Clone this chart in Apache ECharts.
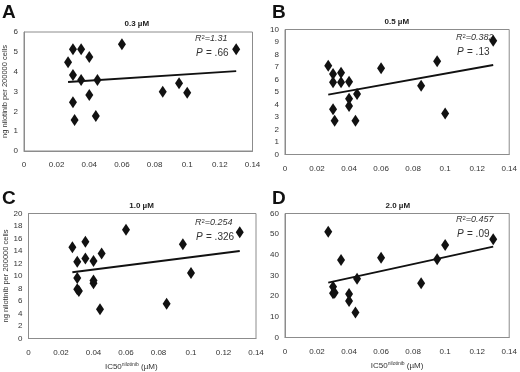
<!DOCTYPE html>
<html>
<head>
<meta charset="utf-8">
<script src="https://cdn.jsdelivr.net/npm/echarts@6/dist/echarts.min.js"></script>
<style>
  html, body { margin: 0; padding: 0; background: #fff; }
  #chart { width: 520px; height: 372px; }
</style>
</head>
<body>
<div id="chart"></div>
<script>
// IC50 (uM) vs ng nilotinib per 200000 cells
const aX = [0.027, 0.03, 0.035, 0.04, 0.06, 0.03, 0.035, 0.045, 0.03, 0.04, 0.031, 0.044, 0.085, 0.095, 0.1, 0.13];
const aY = [4.47, 5.13, 5.13, 4.74, 5.38, 3.83, 3.58, 3.58, 2.46, 2.82, 1.56, 1.76, 2.99, 3.41, 2.94, 5.13];
const bX = [0.027, 0.03, 0.03, 0.035, 0.035, 0.04, 0.04, 0.04, 0.045, 0.03, 0.031, 0.044, 0.06, 0.095, 0.085, 0.1, 0.13];
const bY = [7.1, 6.44, 5.78, 6.55, 5.78, 5.83, 4.47, 3.88, 4.84, 3.62, 2.71, 2.71, 6.9, 7.46, 5.51, 3.29, 9.11];
const cX = [0.027, 0.035, 0.03, 0.035, 0.04, 0.045, 0.03, 0.04, 0.04, 0.03, 0.031, 0.044, 0.06, 0.095, 0.1, 0.085, 0.13];
const cY = [14.6, 15.5, 12.3, 12.8, 12.4, 13.6, 9.7, 9.3, 8.85, 7.9, 7.6, 4.7, 17.4, 15.1, 10.5, 5.55, 17.0];
const dX = [0.027, 0.035, 0.06, 0.03, 0.03, 0.031, 0.04, 0.04, 0.045, 0.044, 0.095, 0.1, 0.085, 0.13];
const dY = [51.2, 37.5, 38.6, 24.6, 21.4, 21.6, 21.1, 17.7, 28.4, 12.1, 37.9, 44.8, 26.3, 47.5];

// trend lines (end points)
const trendX = [0.027, 0.13];
const aTrend = [3.48, 4.03];
const bTrend = [4.79, 7.16];
const cTrend = [10.6, 14.0];
const dTrend = [26.6, 44.0];

const panelLetters = ['A', 'B', 'C', 'D'];
const panelTitles = ['0.3 \u00b5M', '0.5 \u00b5M', '1.0 \u00b5M', '2.0 \u00b5M'];
const rSquared = ['1.31', '0.382', '0.254', '0.457'];
const pValues = ['.66', '.13', '.326', '.09'];
const yMax = [6, 10, 20, 60];
const yStep = [1, 1, 2, 10];

const xTicks = { min: 0, max: 0.14, interval: 0.02 };

const zip = (xs, ys) => xs.map((x, i) => [x, ys[i]]);

const narrow = "'Liberation Sans Narrow', 'Arial Narrow', 'Liberation Sans', sans-serif";
const sans = "'Liberation Sans', Arial, sans-serif";
const gray = '#8c8c8c';

const grids = [
  { left: 22.5, top: 32, width: 230, height: 119 },
  { left: 285, top: 29.5, width: 225, height: 125 },
  { left: 28.5, top: 213.5, width: 227.5, height: 127 },
  { left: 285, top: 213.5, width: 227, height: 124 }
];

const pointSets = [zip(aX, aY), zip(bX, bY), zip(cX, cY), zip(dX, dY)];
const trends = [aTrend, bTrend, cTrend, dTrend];

// annotation positions (R2 line, P line)
const notePos = [
  { left: 195, r: 34, p: 47 },
  { left: 456, r: 33, p: 46 },
  { left: 195, r: 218, p: 231 },
  { left: 456, r: 215, p: 228 }
];

let myChart = echarts.init(document.getElementById('chart'));

let option = {
  animation: false,
  backgroundColor: '#fff',
  grid: grids.map(g => Object.assign({ show: true, borderColor: gray, borderWidth: 1, backgroundColor: '#fff' }, g)),
  title: [],
  xAxis: grids.map((g, i) => ({
    gridIndex: i,
    type: 'value',
    min: xTicks.min,
    max: xTicks.max,
    interval: xTicks.interval,
    axisLine: { show: true, lineStyle: { color: gray } },
    axisTick: { show: false },
    splitLine: { show: false },
    axisLabel: { fontFamily: narrow, fontSize: 8, color: '#333', margin: 10 },
    name: i >= 2 ? 'IC50{s|nilotinib} (\u00b5M)' : '',
    nameLocation: 'middle',
    nameGap: 24,
    nameTextStyle: {
      fontFamily: sans,
      fontSize: 8,
      color: '#333',
      padding: i === 2 ? [0, 22, 0, 0] : [0, 0, 0, 0],
      rich: { s: { fontSize: 5, verticalAlign: 'top', padding: [0, 0, 4, 0], color: '#333', fontFamily: sans } }
    }
  })),
  yAxis: grids.map((g, i) => ({
    gridIndex: i,
    type: 'value',
    min: 0,
    max: yMax[i],
    interval: yStep[i],
    axisLine: { show: true, lineStyle: { color: gray } },
    axisTick: { show: false },
    splitLine: { show: false },
    axisLabel: { fontFamily: narrow, fontSize: 8, color: '#333', margin: 6 },
    name: (i % 2 === 0) ? 'ng nilotinib per 200000 cells' : '',
    nameLocation: 'middle',
    nameGap: 15,
    nameTextStyle: { fontFamily: sans, fontSize: 7.5, color: '#333' }
  })),
  series: [],
  graphic: []
};

grids.forEach((g, i) => {
  option.series.push({
    type: 'scatter',
    xAxisIndex: i,
    yAxisIndex: i,
    symbol: 'diamond',
    symbolSize: [8, 12],
    itemStyle: { color: '#111', opacity: 1 },
    data: pointSets[i],
    z: 3
  });
  option.series.push({
    type: 'line',
    xAxisIndex: i,
    yAxisIndex: i,
    showSymbol: false,
    symbol: 'none',
    lineStyle: { color: '#111', width: 1.8 },
    data: zip(trendX, trends[i]),
    z: 2
  });
  // panel title
  option.title.push({
    text: panelTitles[i],
    left: g.left + g.width / 2 - 13,
    top: g.top - 12,
    padding: 0,
    textStyle: { fontFamily: narrow, fontSize: 8, fontWeight: 'bold', color: '#222' }
  });
  // panel letter
  option.title.push({
    text: panelLetters[i],
    left: (i % 2 === 0) ? 2 : 272,
    top: i < 2 ? 3 : 189,
    padding: 0,
    textStyle: { fontFamily: sans, fontSize: 19, fontWeight: 'bold', color: '#111' }
  });
  // R2 and P annotations
  const np = notePos[i];
  option.graphic.push({
    type: 'text',
    left: np.left,
    top: np.r,
    style: {
      text: '{i|R}{s|2}{i|=' + rSquared[i] + '}',
      rich: {
        i: { fontFamily: sans, fontSize: 9, fontStyle: 'italic', fill: '#333' },
        s: { fontFamily: sans, fontSize: 6, fill: '#333', verticalAlign: 'top', padding: [0, 0, 3, 0] }
      }
    }
  });
  option.graphic.push({
    type: 'text',
    left: np.left + 1,
    top: np.p,
    style: {
      text: '{p|P} {n|= ' + pValues[i] + '}',
      rich: {
        p: { fontFamily: sans, fontSize: 10, fontStyle: 'italic', fill: '#333' },
        n: { fontFamily: sans, fontSize: 10, fill: '#333' }
      }
    }
  });
});

myChart.setOption(option);
</script>
</body>
</html>
